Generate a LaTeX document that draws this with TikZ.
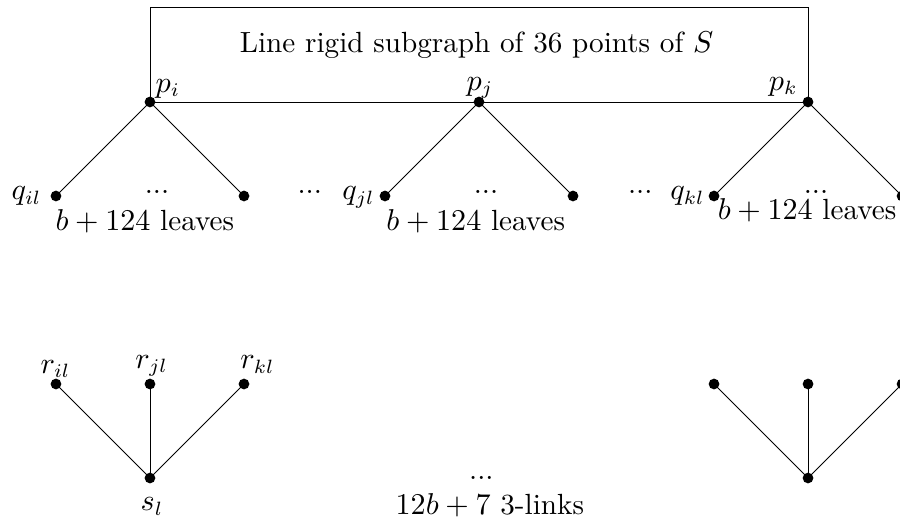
\documentclass[tikz,border=0pt]{standalone}
\begin{document}
\begin{tikzpicture}[x=0.6cm,y=0.6cm,
  every node/.style={font=\fontsize{10.6}{13}\selectfont},
  dot/.style={circle,fill=black,inner sep=0pt,minimum size=3.9pt},
  lab/.style={inner sep=0pt},
  edge/.style={line width=0.35pt}]
\useasboundingbox (-3.191,-8.872) rectangle (15.957,2.170);
% top rigid subgraph box
\node[dot] (pi) at (0,0) {};
\node[dot] (pj) at (7,0) {};
\node[dot] (pk) at (14,0) {};
\coordinate (tr) at (14,2);
\draw[edge] (pi.center) rectangle (tr);
\node[lab] (title) at (6.95,1.2) {Line rigid subgraph of 36 points of $S$};
\node[lab,anchor=base west] (lpi) at (0.11,0.21) {$p_i$};
\node[lab,anchor=base] (lpj) at (7.02,0.25) {$p_j$};
\node[lab,anchor=base east] (lpk) at (13.79,0.25) {$p_k$};
% leaves
\node[dot] (qil) at (-2,-2) {};
\node[dot] (ril0) at (2,-2) {};
\node[dot] (qjl) at (5,-2) {};
\node[dot] (rjl0) at (9,-2) {};
\node[dot] (qkl) at (12,-2) {};
\node[dot] (rkl0) at (16,-2) {};
\draw[edge] (pi.center) -- (qil.center);
\draw[edge] (pi.center) -- (ril0.center);
\draw[edge] (pj.center) -- (qjl.center);
\draw[edge] (pj.center) -- (rjl0.center);
\draw[edge] (pk.center) -- (qkl.center);
\draw[edge] (pk.center) -- (rkl0.center);
\node[lab,anchor=base east] (lqil) at (-2.30,-2.08) {$q_{il}$};
\node[lab,anchor=base east] (lqjl) at (4.79,-2.08) {$q_{jl}$};
\node[lab,anchor=base east] (lqkl) at (11.81,-2.08) {$q_{kl}$};
\node[lab,anchor=base] (d1) at (0.15,-1.94) {...};
\node[lab,anchor=base] (d2) at (3.40,-1.94) {...};
\node[lab,anchor=base] (d3) at (7.15,-1.94) {...};
\node[lab,anchor=base] (d4) at (10.43,-1.94) {...};
\node[lab,anchor=base] (d5) at (14.17,-1.94) {...};
\node[lab,anchor=base] (t1) at (-0.11,-2.74) {$b+124$ leaves};
\node[lab,anchor=base] (t2) at (6.93,-2.74) {$b+124$ leaves};
\node[lab,anchor=base] (t3) at (13.98,-2.51) {$b+124$ leaves};
% 3-links
\node[dot] (ril) at (-2,-6) {};
\node[dot] (rjl) at (0,-6) {};
\node[dot] (rkl) at (2,-6) {};
\node[dot] (sl) at (0,-8) {};
\draw[edge] (sl.center) -- (ril.center);
\draw[edge] (sl.center) -- (rjl.center);
\draw[edge] (sl.center) -- (rkl.center);
\node[lab,anchor=base west] (lril) at (-2.34,-5.77) {$r_{il}$};
\node[lab,anchor=base west] (lrjl) at (-0.32,-5.66) {$r_{jl}$};
\node[lab,anchor=base west] (lrkl) at (1.91,-5.68) {$r_{kl}$};
\node[lab,anchor=base west] (lsl) at (-0.21,-8.70) {$s_l$};
\node[dot] (a1) at (12,-6) {};
\node[dot] (a2) at (14,-6) {};
\node[dot] (a3) at (16,-6) {};
\node[dot] (as) at (14,-8) {};
\draw[edge] (as.center) -- (a1.center);
\draw[edge] (as.center) -- (a2.center);
\draw[edge] (as.center) -- (a3.center);
\node[lab,anchor=base] (dm) at (7.05,-8.04) {...};
\node[lab,anchor=base] (links) at (7.23,-8.77) {$12b+7$ 3-links};
\end{tikzpicture}
\end{document}
